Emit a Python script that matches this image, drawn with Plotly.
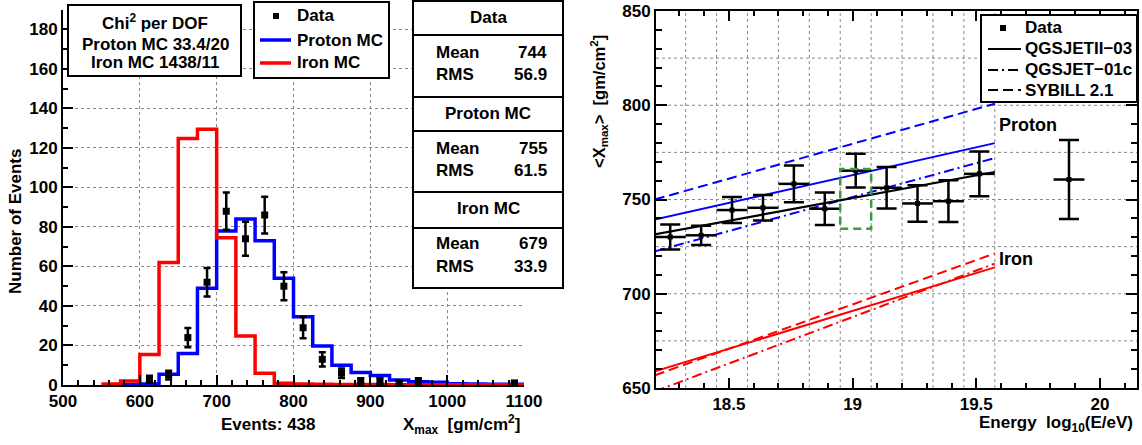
import plotly.graph_objects as go

# ---------------- data: left panel (Xmax histogram) ----------------
bin_edges = [550, 575, 600, 625, 650, 675, 700, 725, 750, 775, 800, 825,
             850, 875, 900, 925, 950, 975, 1000, 1025, 1050, 1075, 1100]
iron_counts = [0.5, 2, 15.4, 62, 124.8, 129.4, 74.5, 24.8, 6, 0.9, 0.5, 0.4,
               0.3, 0.2, 0.2, 0.15, 0.1, 0.1, 0.1, 0.1, 0.1, 0.1]
proton_counts = [None, 0.3, 0.5, 5.5, 16, 49, 78, 84, 73, 54, 34.5, 19.7,
                 10, 6.3, 4.8, 2.5, 1.7, 1.4, 0.6, 0.5, 0.4, 0.4]
data_x = [612.5, 637.5, 662.5, 687.5, 712.5, 737.5, 762.5, 787.5, 812.5,
          837.5, 862.5, 887.5, 912.5, 937.5, 962.5, 1087.5]
data_counts = [3, 5, 24, 52, 88, 74, 86, 50, 29, 13, 6, 2, 2, 1, 2, 1]
data_err = [1.7, 2.2, 4.9, 7.2, 9.4, 8.6, 9.3, 7.1, 5.4, 3.6, 2.4, 1.4, 1.4,
            1.0, 1.4, 1.0]

chi2_lines = ["Chi<sup>2</sup> per DOF", "Proton MC 33.4/20", "Iron MC 1438/11"]
stat_titles = ["Data", "Proton MC", "Iron MC"]
stat_means = ["744", "755", "679"]
stat_rms = ["56.9", "61.5", "33.9"]
n_events = 438
left_legend_labels = ["Data", "Proton MC", "Iron MC"]

# ---------------- data: right panel (<Xmax> vs energy) ----------------
e_x = [18.2625, 18.3875, 18.5125, 18.6375, 18.7625, 18.8875, 19.0125,
       19.1375, 19.2625, 19.3875, 19.5125, 19.875]
e_xerr = [0.0625] * 12
xmax_mean = [730.1, 731.0, 744.4, 745.6, 758.3, 745.1, 765.3, 756.2, 747.9,
             749.1, 763.6, 760.6]
xmax_err = [6.6, 5.1, 6.9, 6.8, 9.7, 8.6, 9.0, 11.0, 9.7, 11.1, 11.9, 21.0]

model_x = [18.2, 19.575]
proton_qgsjetII = [739.4, 779.9]
proton_qgsjet01 = [722.5, 772.0]
proton_sibyll = [750.0, 800.8]
iron_qgsjetII = [658.8, 714.0]
iron_qgsjet01 = [648.2, 716.0]
iron_sibyll = [656.7, 721.4]
data_fit = [731.5, 764.6]

box_x = [18.95, 19.075]
box_y = [734.5, 766.2]

grid_x_edges = [18.325, 18.45, 18.575, 18.7, 18.825, 18.95, 19.075, 19.2,
                19.325, 19.45, 19.575]
grid_y_levels = [675, 700, 725, 750, 775, 800, 825]
right_legend_labels = ["Data", "QGSJETII\u221203", "QGSJET\u221201c", "SYBILL 2.1"]

# ---------------- layout helpers ----------------
W, H = 1142, 445
def px(x):
    return x / W
def py(y):
    return 1 - y / H

FONT = "Liberation Sans"
BLUE = "#0000ff"
RED = "#ff0000"
GREEN = "#3a9d3a"
DASH = "10px,5px"
DASHDOT = "10px,4px,2px,4px"

fig = go.Figure()

# histograms (step lines)
fig.add_trace(go.Scatter(
    x=bin_edges, y=proton_counts + [proton_counts[-1]], mode="lines",
    line=dict(color=BLUE, width=3.5, shape="hv"), name="Proton MC",
    connectgaps=False))
fig.add_trace(go.Scatter(
    x=bin_edges, y=iron_counts + [iron_counts[-1]], mode="lines",
    line=dict(color=RED, width=3.5, shape="hv"), name="Iron MC"))
fig.add_trace(go.Scatter(
    x=data_x, y=data_counts, mode="markers", name="Data",
    marker=dict(symbol="square", size=7, color="black"),
    error_y=dict(type="data", array=data_err, thickness=2.5, width=3.5,
                 color="black")))

# right panel model lines
def model(y, color, dash, width=2):
    fig.add_trace(go.Scatter(
        x=model_x, y=y, mode="lines", xaxis="x2", yaxis="y2",
        line=dict(color=color, width=width, dash=dash), hoverinfo="skip"))

model(proton_sibyll, BLUE, DASH)
model(proton_qgsjetII, BLUE, "solid")
model(proton_qgsjet01, BLUE, DASHDOT)
model(iron_sibyll, RED, DASH)
model(iron_qgsjetII, RED, "solid")
model(iron_qgsjet01, RED, DASHDOT)
model(data_fit, "black", "solid", 2.2)

fig.add_trace(go.Scatter(
    x=e_x, y=xmax_mean, mode="markers", xaxis="x2", yaxis="y2", name="Data",
    marker=dict(symbol="square", size=5, color="black"),
    error_y=dict(type="data", array=xmax_err, thickness=2.5, width=10,
                 color="black"),
    error_x=dict(type="data", array=e_xerr, thickness=2.5, width=0,
                 color="black")))

shapes = []
# right-panel grid
for gx in grid_x_edges:
    shapes.append(dict(type="line", xref="x2", yref="y2 domain", x0=gx, x1=gx,
                       y0=0, y1=1, layer="below",
                       line=dict(color="#888888", width=1, dash="dot")))
for gy in grid_y_levels:
    shapes.append(dict(type="line", xref="x2 domain", yref="y2", x0=0, x1=1,
                       y0=gy, y1=gy, layer="below",
                       line=dict(color="#888888", width=1, dash="dot")))
# green highlight box
shapes.append(dict(type="rect", xref="x2", yref="y2", x0=box_x[0], x1=box_x[1],
                   y0=box_y[0], y1=box_y[1],
                   line=dict(color=GREEN, width=2.5, dash="8px,5px")))

def box(x0, x1, y0, y1):
    shapes.append(dict(type="rect", xref="paper", yref="paper",
                       x0=px(x0), x1=px(x1), y0=py(y1), y1=py(y0),
                       fillcolor="white", line=dict(color="black", width=2),
                       layer="above"))

def hline(x0, x1, y, color="black", width=2, dash="solid"):
    shapes.append(dict(type="line", xref="paper", yref="paper",
                       x0=px(x0), x1=px(x1), y0=py(y), y1=py(y),
                       line=dict(color=color, width=width, dash=dash),
                       layer="above"))

def square(xc, yc, s):
    shapes.append(dict(type="rect", xref="paper", yref="paper",
                       x0=px(xc - s / 2), x1=px(xc + s / 2),
                       y0=py(yc + s / 2), y1=py(yc - s / 2),
                       fillcolor="black", line=dict(color="black", width=0),
                       layer="above"))

# chi2 box
box(68, 241, 5, 76)
# stat box
box(413, 563, 1, 288)
for yy in [35, 97, 131, 192, 228]:
    hline(413, 563, yy)
# left legend
box(254, 389, 2, 78)
square(276, 16, 6)
hline(260, 291, 40, color=BLUE, width=3.5)
hline(260, 291, 63, color=RED, width=3.5)
# right legend
box(981, 1137, 15, 102)
square(1003, 28, 6)
hline(988, 1021, 49, color="black", width=2)
hline(988, 1021, 70, color="black", width=2, dash=DASHDOT)
hline(988, 1021, 90, color="black", width=2, dash=DASH)

annotations = []
def ann(text, x, y, xanchor="center", size=17, angle=0, xref="paper", yref="paper"):
    annotations.append(dict(text=text, x=x, y=y, xref=xref, yref=yref,
                            xanchor=xanchor, yanchor="middle", showarrow=False,
                            textangle=angle,
                            font=dict(family=FONT, size=size, color="black",
                                      weight="bold")))

for i, line in enumerate(chi2_lines):
    ann(line, px(155), py([22, 44, 63][i]))

title_y = [17, 113, 209]
mean_y = [52, 148, 243]
rms_y = [74, 170, 266]
for i in range(3):
    ann(stat_titles[i], px(488), py(title_y[i]))
    ann("Mean", px(434), py(mean_y[i]), xanchor="left")
    ann(stat_means[i], px(549), py(mean_y[i]), xanchor="right")
    ann("RMS", px(434), py(rms_y[i]), xanchor="left")
    ann(stat_rms[i], px(549), py(rms_y[i]), xanchor="right")

for lbl, yy in zip(left_legend_labels, [16, 40, 63]):
    ann(lbl, px(295), py(yy), xanchor="left")
for lbl, yy in zip(right_legend_labels, [28, 49, 70, 90]):
    ann(lbl, px(1023), py(yy), xanchor="left")

ann("Number of Events", px(15), py(222), angle=-90)
ann(f"Events: {n_events}", px(268), py(424))
ann("X<sub>max</sub>  [gm/cm<sup>2</sup>]", px(522), py(424), xanchor="right")
ann("&lt;X<sub>max</sub>&gt;  [gm/cm<sup>2</sup>]", px(599), py(102),
    size=16.5, angle=-90)
ann("Energy  log<sub>10</sub>(E/eV)", px(1135), py(424), xanchor="right")
ann("Proton", 19.585, 789.5, xanchor="left", size=18, xref="x2", yref="y2")
ann("Iron", 19.585, 718.5, xanchor="left", size=18, xref="x2", yref="y2")

axis_common = dict(showline=True, linecolor="black", linewidth=2,
                   ticks="inside", tickcolor="black", tickwidth=1.5,
                   zeroline=False, automargin=False,
                   tickfont=dict(family=FONT, size=17, color="black",
                                 weight="bold"))

fig.update_layout(
    width=W, height=H, margin=dict(l=0, r=0, t=0, b=0),
    paper_bgcolor="white", plot_bgcolor="white", showlegend=False,
    font=dict(family=FONT, size=17, color="black", weight="bold"),
    xaxis=dict(domain=[px(63), px(524)], range=[500, 1100], dtick=100,
               ticklen=10, minor=dict(dtick=20, ticklen=5, ticks="inside",
                                      tickcolor="black"),
               showgrid=True, gridcolor="#888888", griddash="dot", gridwidth=1,
               anchor="y", **axis_common),
    yaxis=dict(domain=[py(385), py(9.6)], range=[0, 190], dtick=20,
               ticklen=10, minor=dict(dtick=10, ticklen=5, ticks="inside",
                                      tickcolor="black"),
               showgrid=True, gridcolor="#888888", griddash="dot", gridwidth=1,
               anchor="x", **axis_common),
    xaxis2=dict(domain=[px(656), px(1137)], range=[18.205, 20.15], dtick=0.5,
                tick0=0, ticklen=10, mirror="ticks",
                minor=dict(dtick=0.1, ticklen=5, ticks="inside",
                           tickcolor="black"),
                showgrid=False, anchor="y2", **axis_common),
    yaxis2=dict(domain=[py(388), py(11)], range=[650, 850], dtick=50,
                ticklen=11, mirror="ticks",
                minor=dict(dtick=10, ticklen=6, ticks="inside",
                           tickcolor="black"),
                showgrid=False, anchor="x2", **axis_common),
    shapes=shapes, annotations=annotations,
)

fig.write_html("out.html", config={"displayModeBar": False},
               post_script="document.body.style.margin='0';")
